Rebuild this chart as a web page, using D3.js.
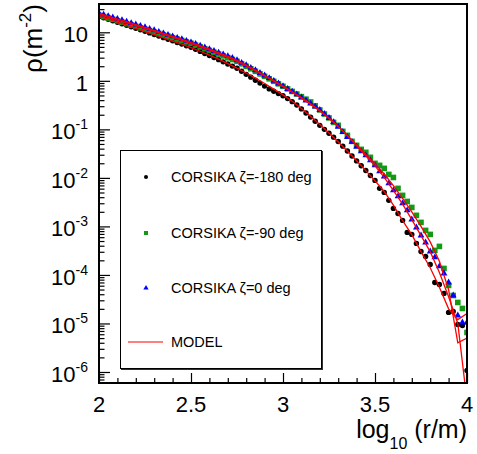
<!DOCTYPE html>
<html><head><meta charset="utf-8">
<script src="https://cdn.jsdelivr.net/npm/d3@7"></script>
<style>body{margin:0;background:#fff}svg{display:block;font-family:"Liberation Sans",Arial,Helvetica,sans-serif}</style>
</head><body><svg id="c" width="477" height="454"></svg>
<script>
// ---- data ----
const logR = [2,2.025,2.05,2.075,2.1,2.125,2.15,2.175,2.2,2.225,2.25,2.275,2.3,2.325,2.35,2.375,2.4,2.425,2.45,2.475,
2.5,2.525,2.55,2.575,2.6,2.625,2.65,2.675,2.7,2.725,2.75,2.775,2.8,2.825,2.85,2.875,2.9,2.925,2.95,2.975,
3,3.025,3.05,3.075,3.1,3.125,3.15,3.175,3.2,3.225,3.25,3.275,3.3,3.325,3.35,3.375,3.4,3.425,3.45,3.475,
3.5,3.525,3.55,3.575,3.6,3.625,3.65,3.675,3.7,3.725,3.75,3.775,3.8,3.825,3.85,3.875,3.9,3.925,3.95,3.975,4];
const rhoM180 = [21.4,19.9,18.5,17.3,16.1,15.0,13.9,13.0,12.1,11.3,
10.5,9.73,9.02,8.36,7.75,7.18,6.66,6.17,5.72,5.30,
4.91,4.46,4.04,3.67,3.32,3.02,2.73,2.46,2.23,2.01,
1.81,1.57,1.36,1.19,1.03,0.897,0.778,0.681,0.608,0.545,
0.491,0.430,0.372,0.318,0.264,0.217,0.179,0.147,0.121,0.100,
0.0832,0.0690,0.0560,0.0451,0.0357,0.0283,0.0224,0.0178,0.0142,0.0112,
0.00888,0.00608,0.00502,0.00344,0.00235,0.00185,0.00133,0.000752,0.000684,0.000446,
0.000305,0.000241,0.000164,7.0e-5,6.37e-5,4.16e-5,1.69e-5,1.77e-5,9.53e-6,9.1e-6,
1.07e-6];
const rhoM90 = [22.4,21.0,19.6,18.4,17.2,16.1,15.0,14.1,13.2,12.3,
11.5,10.8,10.1,9.44,8.83,8.27,7.74,7.24,6.78,6.34,
5.93,5.44,5.00,4.59,4.22,3.87,3.56,3.26,2.99,2.75,
2.52,2.24,1.99,1.77,1.57,1.39,1.24,1.10,0.977,0.867,
0.771,0.684,0.604,0.535,0.472,0.418,0.367,0.305,0.251,0.207,
0.172,0.139,0.121,0.0910,0.0752,0.0566,0.0468,0.0387,0.0336,0.0265,
0.0199,0.0181,0.0157,0.0118,0.0102,0.00608,0.00436,0.00327,0.00246,0.00169,
0.00121,0.000827,0.000684,0.000320,0.000387,0.000136,6.08e-5,3.77e-5,2.71e-5,2.04e-5,
6.52e-6];
const rho0 = [24.7,23.1,21.6,20.2,18.9,17.7,16.5,15.5,14.5,13.6,
12.7,11.8,11.0,10.2,9.53,8.88,8.27,7.70,7.18,6.68,
6.22,5.74,5.30,4.86,4.49,4.12,3.80,3.52,3.23,2.95,
2.66,2.35,2.09,1.85,1.65,1.45,1.29,1.14,1.00,0.883,
0.774,0.681,0.599,0.525,0.453,0.393,0.340,0.295,0.251,0.208,
0.171,0.141,0.113,0.0884,0.0697,0.0552,0.0438,0.0352,0.0291,0.0230,
0.0181,0.0136,0.0107,0.00771,0.00552,0.00416,0.00298,0.00214,0.00139,0.000953,
0.000652,0.000467,0.000305,0.000230,0.000150,0.000107,7.0e-5,3.77e-5,1.46e-5,1.05e-5,
1.05e-5];
const modelR = [2,2.05,2.1,2.15,2.2,2.25,2.3,2.35,2.4,2.45,2.5,2.55,2.6,2.65,2.7,2.75,2.8,2.85,2.9,2.95,
3,3.05,3.1,3.15,3.2,3.25,3.3,3.35,3.4,3.45,3.5,3.55,3.6,3.65,3.7,3.75,3.8,3.85,3.9,3.95,4];
const modelM180 = [21.4,18.6,16.2,14.0,12.0,10.35,8.91,7.67,6.61,5.69,4.84,4.07,3.39,2.79,2.26,1.82,1.45,1.135,0.881,0.676,
0.513,0.380,0.269,0.186,0.126,0.0841,0.0556,0.0359,0.0226,0.0141,0.00871,0.00525,0.00275,0.00132,0.000676,0.000302,0.000141,5.6e-5,2.0e-5,1.2e-5,1.6e-5];
const modelM90 = [23.4,20.4,17.9,15.6,13.7,11.9,10.4,9.04,7.83,6.78,5.85,5.01,4.27,3.61,3.02,2.50,2.02,1.60,1.26,0.982,
0.759,0.581,0.440,0.327,0.240,0.170,0.115,0.0750,0.0479,0.0305,0.0195,0.0120,0.00692,0.00380,0.00200,0.00100,0.000479,0.000191,5.0e-5,4.0e-6,5.0e-6];
const model0 = [24.5,21.5,18.8,16.5,14.4,12.6,11.0,9.53,8.26,7.16,6.19,5.31,4.52,3.82,3.20,2.64,2.12,1.67,1.30,1.01,
0.780,0.596,0.450,0.336,0.245,0.172,0.115,0.0733,0.0457,0.0285,0.0176,0.0102,0.00550,0.00288,0.00138,0.000646,0.000302,0.000112,3.55e-5,1.0e-5,2.5e-7];
const xTicks = [2,2.5,3,3.5,4];
const xTickLabels = ["2","2.5","3","3.5","4"];
const yTicks = [1e-6,1e-5,1e-4,1e-3,1e-2,1e-1,1,10];
const yTickExp = [-6,-5,-4,-3,-2,-1,0,1];
const legendLabels = ["CORSIKA \u03B6=-180 deg","CORSIKA \u03B6=-90 deg","CORSIKA \u03B6=0 deg","MODEL"];

// ---- layout ----
const svg = d3.select("#c");
const L=99, R=467, T=4, B=383;
const x = d3.scaleLinear().domain([2,4]).range([L,R]);
const y = d3.scaleLog().domain([5.93e-7,38.3]).range([B,T]);
const GREEN="#149914", BLUE="#0000ff", RED="#ff0000";

svg.append("clipPath").attr("id","clip").append("rect").attr("x",L).attr("y",T).attr("width",R-L).attr("height",B-T);

// axes ticks (inward)
const minorX = d3.range(2,4.0001,0.1).filter(v=>!xTicks.some(t=>Math.abs(t-v)<1e-6));
svg.append("g").attr("transform",`translate(0,${B})`)
  .call(d3.axisTop(x).tickValues(xTicks).tickSize(10).tickFormat(""))
  .call(g=>{g.select(".domain").remove(); g.selectAll("line").attr("stroke","#000").attr("stroke-width",1.2);});
svg.append("g").attr("transform",`translate(0,${B})`)
  .call(d3.axisTop(x).tickValues(minorX).tickSize(5).tickFormat(""))
  .call(g=>{g.select(".domain").remove(); g.selectAll("line").attr("stroke","#000").attr("stroke-width",1.2);});
const minorY=[];
for(let e=-7;e<=1;e++) for(let m=2;m<=9;m++){const v=m*Math.pow(10,e); if(v>5.93e-7&&v<38.3) minorY.push(v);}
svg.append("g").attr("transform",`translate(${L},0)`)
  .call(d3.axisRight(y).tickValues(yTicks).tickSize(11).tickFormat(""))
  .call(g=>{g.select(".domain").remove(); g.selectAll("line").attr("stroke","#000").attr("stroke-width",1.2);});
svg.append("g").attr("transform",`translate(${L},0)`)
  .call(d3.axisRight(y).tickValues(minorY).tickSize(5.5).tickFormat(""))
  .call(g=>{g.select(".domain").remove(); g.selectAll("line").attr("stroke","#000").attr("stroke-width",1.2);});

// tick labels
svg.append("g").selectAll("text").data(xTicks).join("text")
  .attr("x",d=>x(d)).attr("y",412).attr("text-anchor","middle").attr("font-size",22).attr("fill","#000")
  .text((d,i)=>xTickLabels[i]);
const yl = svg.append("g").selectAll("text").data(yTicks).join("text")
  .attr("x",88).attr("y",d=>y(d)+10).attr("text-anchor","end").attr("font-size",22).attr("fill","#000");
yl.each(function(d,i){
  const e=yTickExp[i], t=d3.select(this);
  if(e===0){t.text("1");}
  else if(e===1){t.text("10");}
  else {t.append("tspan").text("10"); t.append("tspan").attr("font-size",14).attr("dy",-10).text(String(e));}
});

// axis titles
const xt = svg.append("text").attr("x",467).attr("y",438).attr("text-anchor","end").attr("font-size",25).attr("fill","#000");
xt.append("tspan").text("log");
xt.append("tspan").attr("font-size",16).attr("dy",11).text("10");
xt.append("tspan").attr("dy",-11).text("\u00A0(r/m)");
const yt = svg.append("text").attr("transform","translate(42,4) rotate(-90)").attr("text-anchor","end").attr("font-size",26).attr("fill","#000");
yt.append("tspan").text("\u03C1(m");
yt.append("tspan").attr("font-size",17).attr("dy",-11).text("-2");
yt.append("tspan").attr("dy",11).text(")");

// data
const plot = svg.append("g").attr("clip-path","url(#clip)");
const idx = d3.range(logR.length);
plot.append("g").selectAll("circle").data(idx).join("circle")
  .attr("cx",i=>x(logR[i])).attr("cy",i=>y(rhoM180[i])).attr("r",2.7).attr("fill","#000");
plot.append("g").selectAll("rect").data(idx).join("rect")
  .attr("x",i=>x(logR[i])-2.8).attr("y",i=>y(rhoM90[i])-2.8).attr("width",5.6).attr("height",5.6).attr("fill",GREEN);
const tri = d3.symbol().type(d3.symbolTriangle).size(20);
plot.append("g").selectAll("path").data(idx).join("path")
  .attr("transform",i=>`translate(${x(logR[i])},${y(rho0[i])})`).attr("d",tri).attr("fill",BLUE);
const line = d3.line().x(d=>x(d[0])).y(d=>y(d[1]));
[modelM180,modelM90,model0].forEach(arr=>{
  plot.append("path").datum(modelR.map((r,i)=>[r,arr[i]])).attr("d",line)
    .attr("fill","none").attr("stroke",RED).attr("stroke-width",1.3);
});

// frame
svg.append("rect").attr("x",L).attr("y",T).attr("width",R-L).attr("height",B-T)
  .attr("fill","none").attr("stroke","#000").attr("stroke-width",2);

// legend
const lg = svg.append("g");
lg.append("rect").attr("x",121).attr("y",151).attr("width",202).attr("height",219).attr("fill","#333");
lg.append("rect").attr("x",120.5).attr("y",150.5).attr("width",201).attr("height",218).attr("fill","#fff").attr("stroke","#000").attr("stroke-width",1);
const rowsY=[177,233,288,342];
lg.append("circle").attr("cx",146).attr("cy",rowsY[0]).attr("r",2).attr("fill","#000");
lg.append("rect").attr("x",144).attr("y",rowsY[1]-2).attr("width",4).attr("height",4).attr("fill",GREEN);
lg.append("path").attr("transform",`translate(146,${rowsY[2]})`).attr("d",d3.symbol().type(d3.symbolTriangle).size(12)).attr("fill",BLUE);
lg.append("line").attr("x1",128).attr("x2",163).attr("y1",rowsY[3]).attr("y2",rowsY[3]).attr("stroke",RED).attr("stroke-width",1.2);
lg.selectAll("text.l").data(legendLabels).join("text").attr("class","l")
  .attr("x",171).attr("y",(d,i)=>rowsY[i]+5).attr("font-size",14.5).attr("fill","#000").text(d=>d);
</script></body></html>
